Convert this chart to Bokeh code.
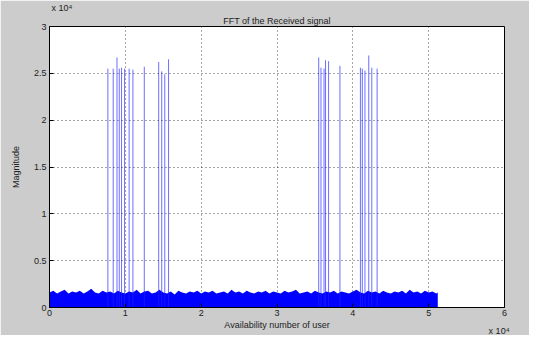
from bokeh.plotting import figure
from bokeh.models import Title, FixedTicker, Range1d
from bokeh.embed import file_html
from bokeh.resources import INLINE

# ---- data (x in units of 1e4, magnitude in units of 1e4) ----
x_ticks = [0, 1, 2, 3, 4, 5, 6]
y_ticks = [0, 0.5, 1, 1.5, 2, 2.5, 3]
y_tick_labels = ["0", "0.5", "1", "1.5", "2", "2.5", "3"]

spike_x = [0.77, 0.84, 0.89, 0.92, 0.95, 0.99, 1.05, 1.10, 1.25, 1.44, 1.48, 1.52, 1.57,
           3.55, 3.58, 3.62, 3.64, 3.68, 3.83, 4.10, 4.125, 4.16, 4.21, 4.25, 4.32]
spike_h = [2.55, 2.55, 2.67, 2.55, 2.56, 2.55, 2.55, 2.54, 2.57, 2.62, 2.52, 2.49, 2.65,
           2.67, 2.56, 2.55, 2.64, 2.63, 2.58, 2.56, 2.55, 2.53, 2.69, 2.56, 2.55]

noise_x = [0.00, 0.05, 0.10, 0.15, 0.20, 0.25, 0.30, 0.35, 0.40, 0.45,
           0.50, 0.55, 0.60, 0.65, 0.70, 0.75, 0.80, 0.85, 0.90, 0.95,
           1.00, 1.05, 1.10, 1.15, 1.20, 1.25, 1.30, 1.35, 1.40, 1.45,
           1.50, 1.55, 1.60, 1.65, 1.70, 1.75, 1.80, 1.85, 1.90, 1.95,
           2.00, 2.05, 2.10, 2.15, 2.20, 2.25, 2.30, 2.35, 2.40, 2.45,
           2.50, 2.55, 2.60, 2.65, 2.70, 2.75, 2.80, 2.85, 2.90, 2.95,
           3.00, 3.05, 3.10, 3.15, 3.20, 3.25, 3.30, 3.35, 3.40, 3.45,
           3.50, 3.55, 3.60, 3.65, 3.70, 3.75, 3.80, 3.85, 3.90, 3.95,
           4.00, 4.05, 4.10, 4.15, 4.20, 4.25, 4.30, 4.35, 4.40, 4.45,
           4.50, 4.55, 4.60, 4.65, 4.70, 4.75, 4.80, 4.85, 4.90, 4.95,
           5.00, 5.05, 5.10, 5.12]
noise_top = [0.16, 0.18, 0.15, 0.17, 0.19, 0.15, 0.17, 0.16, 0.18, 0.15,
             0.17, 0.20, 0.16, 0.15, 0.18, 0.16, 0.17, 0.15, 0.18, 0.16,
             0.15, 0.17, 0.16, 0.19, 0.15, 0.17, 0.18, 0.15, 0.16, 0.19,
             0.16, 0.15, 0.17, 0.14, 0.18, 0.16, 0.15, 0.17, 0.16, 0.18,
             0.15, 0.17, 0.16, 0.18, 0.15, 0.16, 0.17, 0.15, 0.19, 0.16,
             0.17, 0.15, 0.18, 0.16, 0.15, 0.17, 0.16, 0.18, 0.15, 0.17,
             0.16, 0.15, 0.18, 0.16, 0.17, 0.19, 0.15, 0.16, 0.17, 0.15,
             0.18, 0.16, 0.15, 0.17, 0.16, 0.18, 0.15, 0.17, 0.16, 0.15,
             0.17, 0.19, 0.16, 0.15, 0.18, 0.16, 0.17, 0.15, 0.18, 0.16,
             0.15, 0.17, 0.16, 0.18, 0.15, 0.19, 0.16, 0.17, 0.15, 0.18,
             0.16, 0.17, 0.15, 0.16]
noise_base = [0.0] * len(noise_x)

FONT = "Liberation Sans"
TXT = "#222222"
SCALE_TEXT = "x 10⁴"

p = figure(width=529, height=335, output_backend="svg", toolbar_location=None,
           x_range=Range1d(0, 6), y_range=Range1d(0, 3),
           title=SCALE_TEXT,
           min_border_left=49, min_border_right=25, min_border_top=24, min_border_bottom=28)

p.background_fill_color = "white"
p.border_fill_color = "#cccccc"
p.outline_line_color = "black"
p.outline_line_width = 1

# outer (scale) title, top-left
p.title.align = "left"
p.title.offset = 2
p.title.text_font = FONT
p.title.text_font_size = "9px"
p.title.text_font_style = "normal"
p.title.text_color = TXT
p.title.standoff = 0

main_title = Title(text="FFT of the Received signal", align="center", text_font=FONT,
                   text_font_size="9px", text_font_style="normal", text_color=TXT,
                   standoff=2)
p.add_layout(main_title, "above")

p.varea(x=noise_x, y1=noise_base, y2=noise_top, fill_color="#0000ff")
p.segment(x0=spike_x, y0=[0.0] * len(spike_x), x1=spike_x, y1=spike_h,
          line_color="#2020ff", line_alpha=0.65, line_width=1)

for ax in (p.xaxis[0], p.yaxis[0]):
    ax.major_label_text_font = FONT
    ax.major_label_text_font_size = "9px"
    ax.major_label_text_color = TXT
    ax.axis_label_text_font = FONT
    ax.axis_label_text_font_size = "9px"
    ax.axis_label_text_font_style = "normal"
    ax.axis_label_text_color = TXT
    ax.major_tick_in = 4
    ax.major_tick_out = 0
    ax.minor_tick_in = 0
    ax.minor_tick_out = 0
    ax.axis_line_color = "black"
    ax.major_tick_line_color = "black"

p.xaxis.ticker = FixedTicker(ticks=x_ticks)
p.yaxis.ticker = FixedTicker(ticks=y_ticks)
p.yaxis.major_label_overrides = {t: s for t, s in zip(y_ticks, y_tick_labels)}
p.xaxis.major_label_standoff = 2
p.yaxis.major_label_standoff = 3
p.xaxis.axis_label = "Availability number of user"
p.yaxis.axis_label = "Magnitude"
p.xaxis.axis_label_standoff = 1
p.yaxis.axis_label_standoff = 10

bottom_scale = Title(text=SCALE_TEXT, align="right", vertical_align="top", text_font=FONT,
                     text_font_size="9px", text_font_style="normal", text_color=TXT,
                     standoff=-14, offset=-5)
p.add_layout(bottom_scale, "below")

for g in (p.xgrid[0], p.ygrid[0]):
    g.grid_line_color = "black"
    g.grid_line_dash = "1 3"
    g.grid_line_alpha = 0.7

open("out.html", "w").write(file_html(p, INLINE))
